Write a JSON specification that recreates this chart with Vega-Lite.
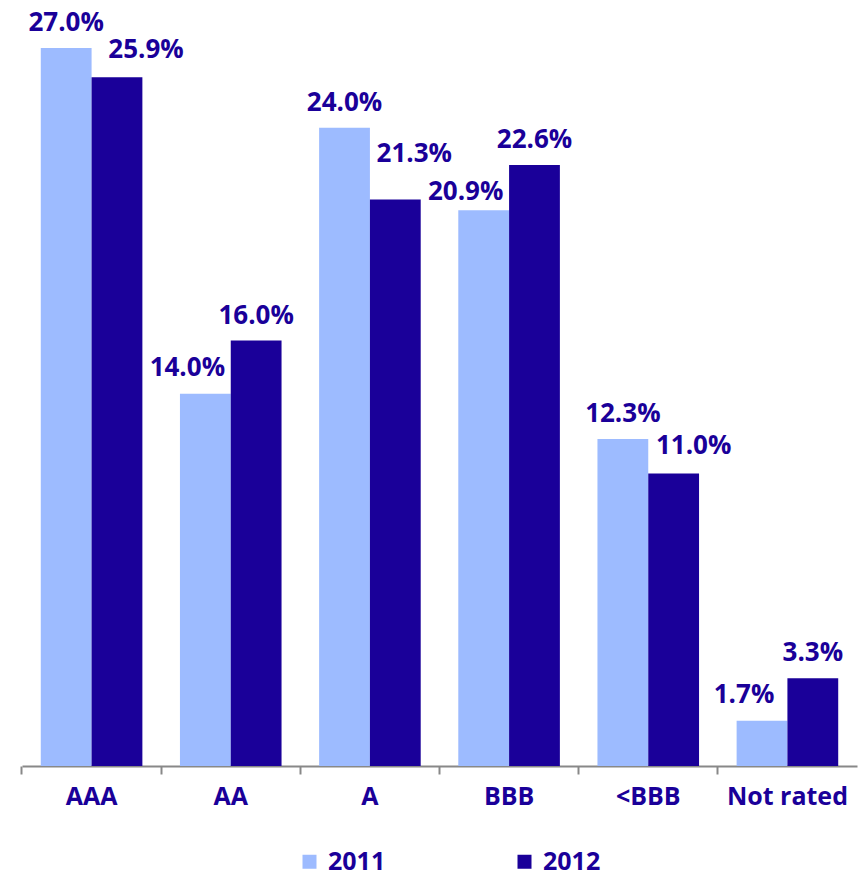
{
  "$schema": "https://vega.github.io/schema/vega-lite/v6.json",
  "width": 835,
  "height": 718,
  "autosize": "none",
  "padding": {"left": 22, "top": 48, "right": 2, "bottom": 112},
  "background": "white",
  "config": {
    "view": {"stroke": null},
    "font": "Open Sans",
    "text": {"baseline": "alphabetic", "font": "Open Sans", "fontSize": 26, "fontWeight": "bold", "color": "#1A0099"}
  },
  "data": {
    "values": [
      {"rating": "AAA", "year": "2011", "share": 0.270},
      {"rating": "AAA", "year": "2012", "share": 0.259},
      {"rating": "AA", "year": "2011", "share": 0.140},
      {"rating": "AA", "year": "2012", "share": 0.160},
      {"rating": "A", "year": "2011", "share": 0.240},
      {"rating": "A", "year": "2012", "share": 0.213},
      {"rating": "BBB", "year": "2011", "share": 0.209},
      {"rating": "BBB", "year": "2012", "share": 0.226},
      {"rating": "<BBB", "year": "2011", "share": 0.123},
      {"rating": "<BBB", "year": "2012", "share": 0.110},
      {"rating": "Not rated", "year": "2011", "share": 0.017},
      {"rating": "Not rated", "year": "2012", "share": 0.033}
    ]
  },
  "transform": [
    {"joinaggregate": [{"op": "max", "field": "share", "as": "maxShare"}], "groupby": ["rating"]}
  ],
  "encoding": {
    "x": {
      "field": "rating",
      "type": "nominal",
      "sort": null,
      "scale": {"paddingInner": 0.27, "paddingOuter": 0.135},
      "axis": {
        "title": null,
        "labelAngle": 0,
        "domainColor": "#888888",
        "domainWidth": 2,
        "tickColor": "#888888",
        "tickWidth": 2,
        "tickSize": 8,
        "bandPosition": -0.185,
        "labelFont": "Open Sans",
        "labelFontSize": 25,
        "labelFontWeight": "bold",
        "labelColor": "#1A0099",
        "labelPadding": 10
      }
    },
    "xOffset": {"field": "year", "type": "nominal", "scale": {"paddingInner": 0, "paddingOuter": 0}},
    "y": {
      "field": "share",
      "type": "quantitative",
      "scale": {"domain": [0, 0.27]},
      "axis": null
    },
    "text": {"field": "share", "type": "quantitative", "format": ".1%"}
  },
  "layer": [
    {
      "mark": {"type": "bar"},
      "encoding": {
        "text": null,
        "color": {
          "field": "year",
          "type": "nominal",
          "scale": {"domain": ["2011", "2012"], "range": ["#9DBBFF", "#1A0099"]},
          "legend": {
            "title": null,
            "orient": "none",
            "direction": "horizontal",
            "legendX": 275,
            "legendY": 801,
            "symbolType": "square",
            "symbolSize": 196,
            "symbolStrokeWidth": 0,
            "labelFont": "Open Sans",
            "labelFontSize": 25,
            "labelFontWeight": "bold",
            "labelColor": "#1A0099",
            "labelOffset": 6,
            "columnPadding": 126
          }
        }
      }
    },
    {
      "transform": [{"filter": "datum.share == datum.maxShare"}],
      "mark": {"type": "text", "dy": -17}
    },
    {
      "transform": [{"filter": "datum.share < datum.maxShare && datum.year == '2011' && datum.rating != 'BBB'"}],
      "mark": {"type": "text", "dy": -18, "dx": -18}
    },
    {
      "transform": [{"filter": "datum.share < datum.maxShare && datum.year == '2011' && datum.rating == 'BBB'"}],
      "mark": {"type": "text", "dy": -10, "dx": -18}
    },
    {
      "transform": [{"filter": "datum.share < datum.maxShare && datum.year == '2012' && datum.rating != 'A' && datum.rating != 'AAA'"}],
      "mark": {"type": "text", "dy": -19, "dx": 20}
    },
    {
      "transform": [{"filter": "datum.share < datum.maxShare && datum.year == '2012' && datum.rating == 'AAA'"}],
      "mark": {"type": "text", "dy": -19, "dx": 29}
    },
    {
      "transform": [{"filter": "datum.share < datum.maxShare && datum.year == '2012' && datum.rating == 'A'"}],
      "mark": {"type": "text", "dy": -38, "dx": 19}
    }
  ]
}
